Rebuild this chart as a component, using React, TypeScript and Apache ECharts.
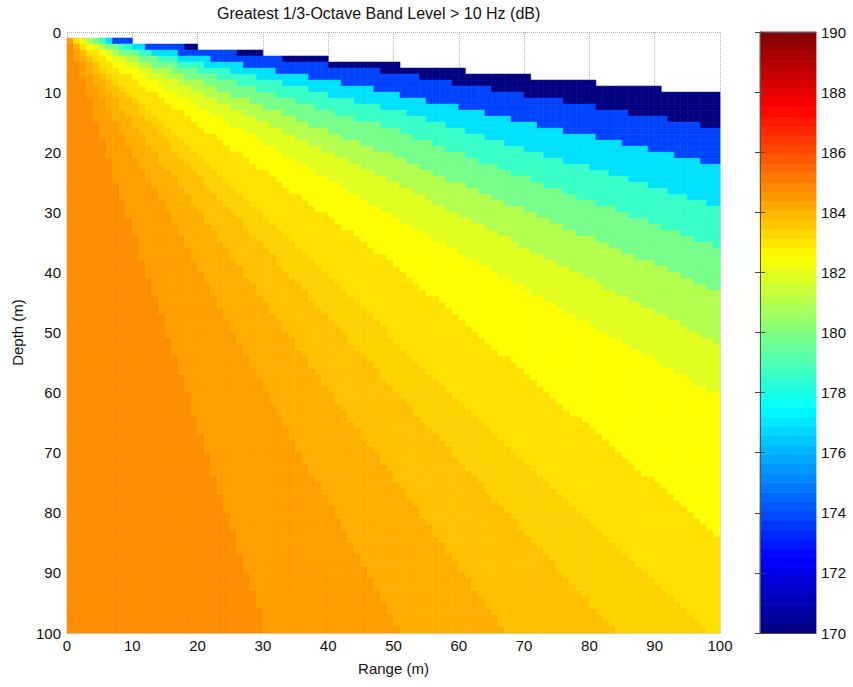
import React, { useEffect, useRef } from "react";
import * as echarts from "echarts";

// Axis ticks
const rangeTicks = [0, 10, 20, 30, 40, 50, 60, 70, 80, 90, 100];
const depthTicks = [0, 10, 20, 30, 40, 50, 60, 70, 80, 90, 100];
const colorbarTicks = [170, 172, 174, 176, 178, 180, 182, 184, 186, 188, 190];

// Band levels (dB), from the surface band down to the deep band
const bandLevels = [170, 173.8, 176.9, 178.6, 179.8, 181.0, 181.9, 182.5, 183.1, 183.4, 183.75, 184.1, 184.4, 184.75];

// Edge of the no-data (white) region: [range, depth] points
const noDataEdge: number[][] = [[0, 0.5], [100, 10.4]];

// Edges between consecutive bands: [range, depth] points
const bandEdges: number[][][] = [
  [[0, 0], [50, 6.8], [100, 16]],
  [[0, 0], [50, 10.2], [100, 22.1]],
  [[0, 0], [50, 13], [100, 29.1]],
  [[0, 0], [50, 16.3], [100, 36]],
  [[0, 0], [50, 20.7], [100, 43.2]],
  [[0, 0], [50, 25], [100, 52]],
  [[0, 0], [50, 30.7], [100, 60.7]],
  [[0, 0], [50, 38.5], [100, 84]],
  [[0, 0], [98, 100]],
  [[0, 0], [84.2, 100]],
  [[0, 0], [67.4, 100]],
  [[0, 0], [51, 100]],
  [[0, 0], [30.6, 100]],
];

// Grid cell size (m)
const cellSize = 1;
const rangeMax = 100;
const depthMax = 100;

// jet colormap stops
const jetStops = ["#000080", "#0000ff", "#0080ff", "#00ffff", "#80ff80", "#ffff00", "#ff8000", "#ff0000", "#800000"];

function edgeDepthAt(edge: number[][], r: number): number {
  let k = 0;
  while (k < edge.length - 2 && r > edge[k + 1][0]) k++;
  const [r0, d0] = edge[k];
  const [r1, d1] = edge[k + 1];
  return d0 + ((r - r0) * (d1 - d0)) / (r1 - r0);
}

function buildCells(): number[][] {
  const cells: number[][] = [];
  for (let r = 0; r < rangeMax; r += cellSize) {
    for (let d = 0; d < depthMax; d += cellSize) {
      const rc = r + cellSize / 2;
      const dc = d + cellSize / 2;
      if (dc < edgeDepthAt(noDataEdge, rc)) continue;
      let band = 0;
      for (const e of bandEdges) if (edgeDepthAt(e, rc) < dc) band++;
      cells.push([r, d, bandLevels[band]]);
    }
  }
  return cells;
}

function buildColorbar(): number[][] {
  const n = 64;
  const lo = colorbarTicks[0];
  const hi = colorbarTicks[colorbarTicks.length - 1];
  const step = (hi - lo) / n;
  const out: number[][] = [];
  for (let k = 0; k < n; k++) out.push([lo + k * step, lo + (k + 1) * step, lo + (k + 0.5) * step]);
  return out;
}

const FONT = "'Liberation Sans', Arial, sans-serif";

export default function App() {
  const ref = useRef<HTMLDivElement>(null);
  useEffect(() => {
    if (!ref.current) return;
    const chart = echarts.init(ref.current, null, { renderer: "svg" });
    const cells = buildCells();
    const bar = buildColorbar();
    const cbMin = colorbarTicks[0];
    const cbMax = colorbarTicks[colorbarTicks.length - 1];
    chart.setOption({
      animation: false,
      backgroundColor: "#ffffff",
      title: {
        text: "Greatest 1/3-Octave Band Level > 10 Hz (dB)",
        left: 212,
        top: 0,
        textStyle: { fontFamily: FONT, fontSize: 16, fontWeight: "normal", color: "#111" },
      },
      visualMap: {
        type: "continuous",
        show: false,
        min: cbMin,
        max: cbMax,
        dimension: 2,
        seriesIndex: [0, 1],
        inRange: { color: jetStops },
      },
      grid: [
        { left: 67, right: 133, top: 32, bottom: 54 },
        { left: 760, width: 56, top: 32, bottom: 54 },
      ],
      xAxis: [
        {
          gridIndex: 0,
          type: "value",
          min: rangeTicks[0],
          max: rangeTicks[rangeTicks.length - 1],
          interval: rangeTicks[1] - rangeTicks[0],
          axisLine: { show: false },
          axisTick: { show: false },
          axisLabel: { fontFamily: FONT, fontSize: 15, color: "#111", margin: 5 },
          splitLine: { show: true, lineStyle: { type: "dotted", color: "#b0b0b0", width: 1 } },
          name: "Range (m)",
          nameLocation: "middle",
          nameGap: 28,
          nameTextStyle: { fontFamily: FONT, fontSize: 15, color: "#111" },
        },
        {
          gridIndex: 1, type: "value", min: 0, max: 1, position: "bottom", z: 10,
          axisLine: { show: true, lineStyle: { color: "#555", width: 1 } },
          axisTick: { show: false }, axisLabel: { show: false }, splitLine: { show: false },
        },
        {
          gridIndex: 1, type: "value", min: 0, max: 1, position: "top", z: 10,
          axisLine: { show: true, lineStyle: { color: "#555", width: 1 } },
          axisTick: { show: false }, axisLabel: { show: false }, splitLine: { show: false },
        },
      ],
      yAxis: [
        {
          gridIndex: 0,
          type: "value",
          inverse: true,
          min: depthTicks[0],
          max: depthTicks[depthTicks.length - 1],
          interval: depthTicks[1] - depthTicks[0],
          axisLine: { show: false },
          axisTick: { show: false },
          axisLabel: { fontFamily: FONT, fontSize: 15, color: "#111", margin: 6 },
          splitLine: { show: true, lineStyle: { type: "dotted", color: "#b0b0b0", width: 1 } },
          name: "Depth (m)",
          nameLocation: "middle",
          nameGap: 38,
          nameTextStyle: { fontFamily: FONT, fontSize: 15, color: "#111" },
        },
        {
          gridIndex: 1, type: "value", min: cbMin, max: cbMax, interval: 2, position: "right", z: 10,
          axisLine: { show: true, lineStyle: { color: "#555", width: 1 } },
          axisTick: { show: true, inside: true, length: 5, lineStyle: { color: "#444" } },
          axisLabel: { fontFamily: FONT, fontSize: 15, color: "#111", margin: 5 },
          splitLine: { show: false },
        },
        {
          gridIndex: 1, type: "value", min: cbMin, max: cbMax, interval: 2, position: "left", z: 10,
          axisLine: { show: true, lineStyle: { color: "#555", width: 1 } },
          axisTick: { show: true, inside: true, length: 5, lineStyle: { color: "#444" } },
          axisLabel: { show: false },
          splitLine: { show: false },
        },
      ],
      series: [
        {
          type: "custom",
          xAxisIndex: 0,
          yAxisIndex: 0,
          data: cells,
          renderItem: (params: any, api: any) => {
            const x0 = api.value(0);
            const y0 = api.value(1);
            const p0 = api.coord([x0, y0]);
            const p1 = api.coord([x0 + cellSize, y0 + cellSize]);
            const c = api.visual("color");
            return {
              type: "rect",
              shape: {
                x: Math.min(p0[0], p1[0]),
                y: Math.min(p0[1], p1[1]),
                width: Math.abs(p1[0] - p0[0]),
                height: Math.abs(p1[1] - p0[1]),
              },
              style: { fill: c, stroke: c, lineWidth: 0.6 },
            };
          },
        },
        {
          type: "custom",
          xAxisIndex: 1,
          yAxisIndex: 1,
          data: bar,
          renderItem: (params: any, api: any) => {
            const lo = api.value(0);
            const hi = api.value(1);
            const p0 = api.coord([0, hi]);
            const p1 = api.coord([1, lo]);
            const c = api.visual("color");
            return {
              type: "rect",
              shape: { x: p0[0], y: p0[1], width: p1[0] - p0[0], height: p1[1] - p0[1] },
              style: { fill: c, stroke: c, lineWidth: 0.8 },
            };
          },
        },
      ],
    });
    return () => chart.dispose();
  }, []);
  return <div ref={ref} style={{ position: "fixed", left: 0, top: 0, width: 853, height: 687 }} />;
}
